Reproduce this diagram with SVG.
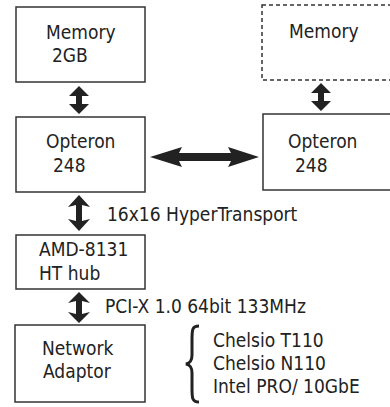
<svg xmlns="http://www.w3.org/2000/svg" width="390" height="407" viewBox="0 0 390 407">
<style>
.box{fill:#fff;stroke:#333;stroke-width:1.5}
.dash{fill:#fff;stroke:#333;stroke-width:1.5;stroke-dasharray:4 3}
text{font-family:"DejaVu Sans Condensed","DejaVu Sans",sans-serif;font-stretch:condensed;font-size:19px;fill:#222}
.arr{fill:#222;stroke:none}
</style>
<rect width="390" height="407" fill="#fff"/>
<g id="connectors">
<path class="arr" d="M79,86 L89,96 L82,96 L82,104 L89,104 L79,114 L69,104 L76,104 L76,96 L69,96 Z"/>
<path class="arr" d="M321,83 L331,93 L324,93 L324,101 L331,101 L321,111 L311,101 L318,101 L318,93 L311,93 Z"/>
<path class="arr" d="M79,195 L90,207 L82,205 L82,221 L90,219 L79,231 L68,219 L76,221 L76,205 L68,207 Z"/>
<path class="arr" d="M79,292 L90,303 L82,301 L82,314 L90,312 L79,323 L68,312 L76,314 L76,301 L68,303 Z"/>
<path class="arr" d="M150,157 L182,147 L179,153 L231,153 L228,147 L259,157 L228,167 L231,161 L179,161 L182,167 Z"/>
</g>
<g id="memory-left">
<rect class="box" x="16" y="7" width="129" height="75"/>
<text x="46" y="39">Memory</text>
<text x="52" y="62">2GB</text>
</g>
<g id="memory-right">
<rect class="dash" x="262" y="5" width="140" height="75"/>
<text x="289" y="38">Memory</text>
</g>
<g id="opteron-left">
<rect class="box" x="16" y="117" width="129" height="75"/>
<text x="46" y="148">Opteron</text>
<text x="53" y="172">248</text>
</g>
<g id="opteron-right">
<rect class="box" x="263" y="114" width="140" height="76"/>
<text x="288" y="148">Opteron</text>
<text x="295" y="172">248</text>
</g>
<g id="amd-hub">
<rect class="box" x="16" y="235" width="129" height="54"/>
<text x="39" y="256">AMD-8131</text>
<text x="39" y="280">HT hub</text>
</g>
<g id="network-adaptor">
<rect class="box" x="15" y="325" width="130" height="77"/>
<text x="42" y="355">Network</text>
<text x="43" y="378">Adaptor</text>
</g>
<g id="labels">
<text x="107" y="221">16x16 HyperTransport</text>
<text x="105" y="313">PCI-X 1.0 64bit 133MHz</text>
<path d="M199,326 C192,326 192,330 192,340 L192,355 C192,361 190,363 186,364 C190,365 192,367 192,373 L192,388 C192,398 192,402 199,402" fill="none" stroke="#222" stroke-width="3"/>
<text x="213" y="347">Chelsio T110</text>
<text x="213" y="370">Chelsio N110</text>
<text x="213" y="393">Intel PRO/ 10GbE</text>
</g>
</svg>
